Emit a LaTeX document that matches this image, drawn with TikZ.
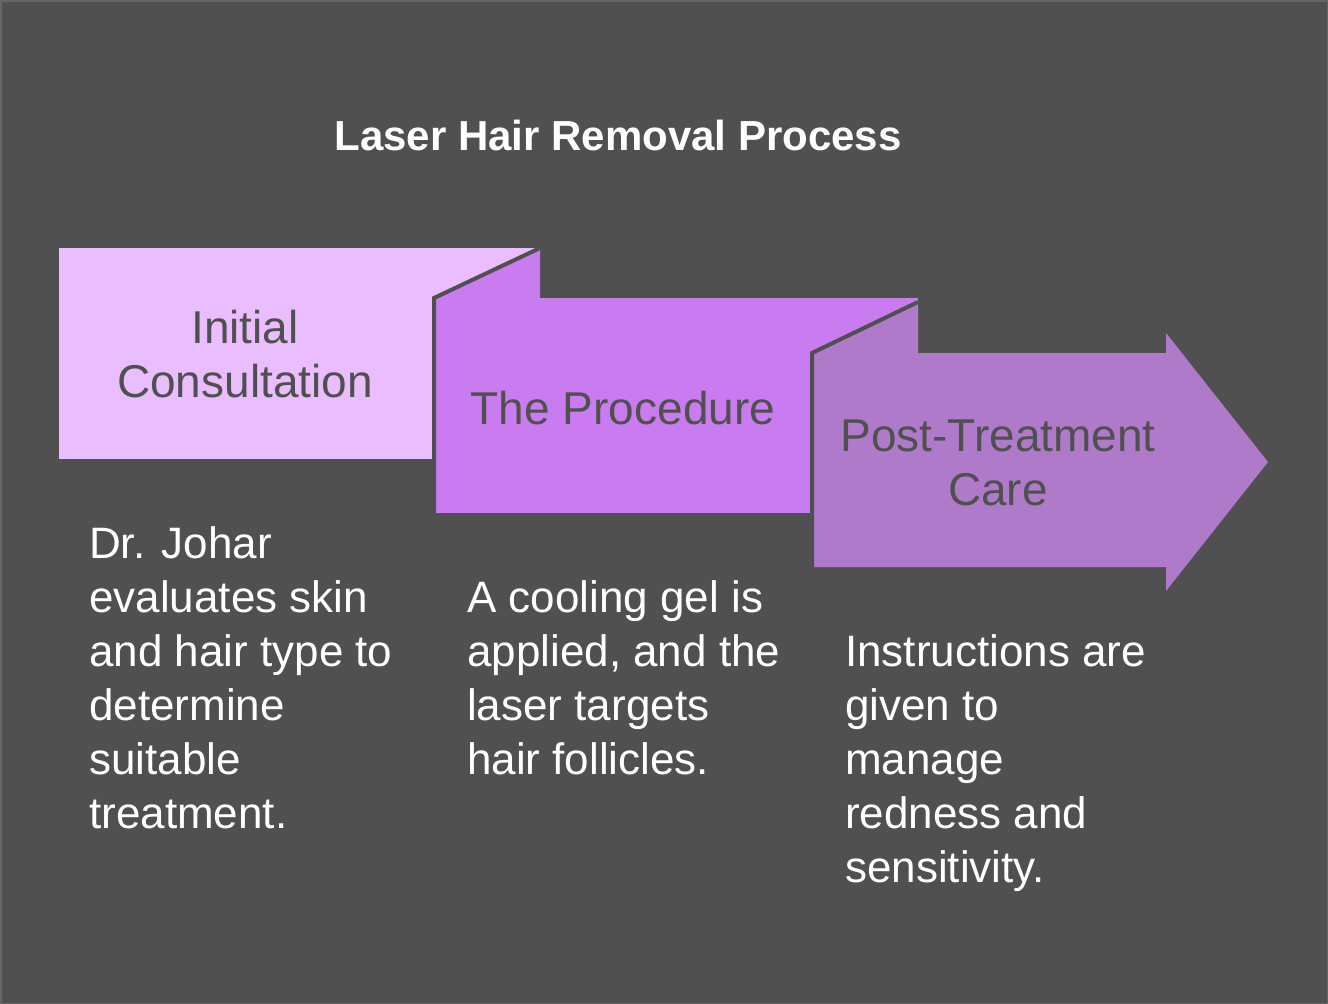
\documentclass[tikz,border=0pt]{standalone}
\usepackage{fontspec}
\setmainfont{Liberation Sans}
\begin{document}
\begin{tikzpicture}[x=1pt,y=-1pt,
  lbl/.style={font=\fontsize{46}{54}\selectfont,text=bgc,align=center,inner sep=0},
  desc/.style={font=\fontsize{44}{54}\selectfont,text=white,align=left,inner sep=0,anchor=base west},
  edge/.style={draw=bgc,line width=4pt,line join=miter}]
\definecolor{bgc}{HTML}{505050}
\definecolor{ca}{HTML}{E9BDFE}
\definecolor{cb}{HTML}{C97CF0}
\definecolor{cc}{HTML}{B07ACB}
\fill[bgc] (0,0) rectangle (1328,1004);
\draw[black!60,line width=1.5pt] (0.75,0.75) rectangle (1327.25,1003.25);
\node[font=\bfseries\fontsize{42}{48}\selectfont,text=white,anchor=base] (title) at (618,150) {Laser Hair Removal Process};
% box 1
\fill[ca] (59,248) rectangle (540,459);
% box 2 + fold
\fill[cb] (432,298) -- (540,248) -- (540,298) -- cycle;
\fill[cb] (434,298) rectangle (918,513);
\draw[edge] (434,513) -- (434,298) -- (540,248);
% box 3 + fold
\fill[cc] (810,353) -- (918,302) -- (918,353) -- cycle;
\fill[cc] (812,353) -- (1166,353) -- (1166,333) -- (1268,462) -- (1166,591) -- (1166,567) -- (812,567) -- cycle;
\draw[edge] (812,567) -- (812,353) -- (918,302);
\node[lbl,anchor=base] (l1) at (245,397) {Initial\\Consultation};
\node[lbl,anchor=base] (l2) at (623,424) {The Procedure};
\node[lbl,anchor=base] (l3) at (998,505) {Post-Treatment\\Care};
\node[desc] (d1) at (89,828) {Dr. Johar\\evaluates skin\\and hair type to\\determine\\suitable\\treatment.};
\node[desc] (d2) at (467,774) {A cooling gel is\\applied, and the\\laser targets\\hair follicles.};
\node[desc] (d3) at (845,882) {Instructions are\\given to\\manage\\redness and\\sensitivity.};
\end{tikzpicture}
\end{document}
